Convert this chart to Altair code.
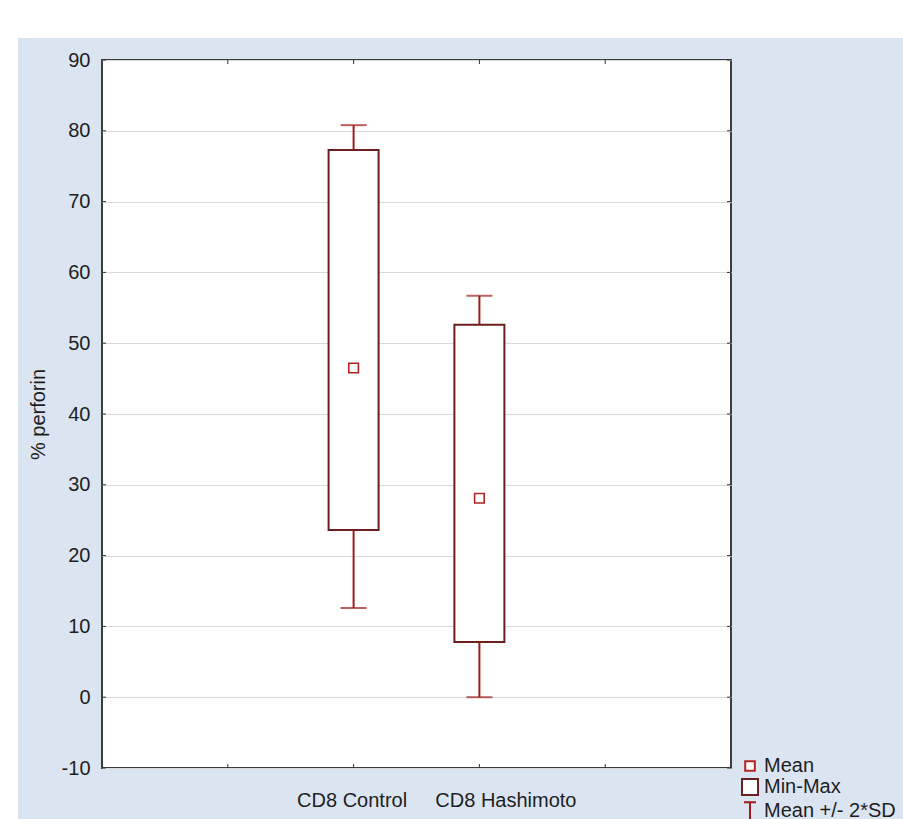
import altair as alt
import pandas as pd

# ---- data ----
categories = ["CD8 Control", "CD8 Hashimoto"]
mean_vals = [46.5, 28.1]
min_vals = [23.6, 7.8]
max_vals = [77.3, 52.6]
sd_low = [12.6, 0.0]
sd_high = [80.8, 56.7]
y_ticks = [-10, 0, 10, 20, 30, 40, 50, 60, 70, 80, 90]
legend_labels = ["Mean", "Min-Max", "Mean +/- 2*SD"]
x_slots = ["_pad1"] + categories + ["_pad2"]

# ---- layout / style ----
W, H = 629, 708
PAD = {"left": 102, "top": 60, "right": 172, "bottom": 51}
BLUE = "#dbe5f1"
FONT = "Liberation Sans"
FS = 20
TXT = "#1e1e1e"
BOX_C = "#6b1f1f"
WHISK_C = "#a01c1c"
MEAN_C = "#b22222"

df = pd.DataFrame({
    "cat": categories, "mean": mean_vals, "lo": min_vals, "hi": max_vals,
    "sdl": sd_low, "sdh": sd_high, "stat": ["Mean"] * len(categories),
})
ydf = pd.DataFrame({"v": y_ticks})
xdf = pd.DataFrame({"cat": x_slots})
one = pd.DataFrame({"a": [0]})

xs = alt.Scale(type="point", domain=x_slots, padding=1)
ys = alt.Scale(domain=[-10, 90], nice=False, zero=False)

x_axis = alt.Axis(
    title=None, ticks=False, domain=False, grid=False, labelAngle=0,
    labelExpr="indexof(datum.label, '_pad') >= 0 ? '' : datum.label",
    labelOffset={"condition": {"test": "datum.value == 'CD8 Hashimoto'", "value": 26}, "value": -2},
    labelFont=FONT, labelFontSize=FS, labelColor=TXT, labelPadding=22,
    labelOverlap=False,
)
y_axis = alt.Axis(
    title="% perforin", values=y_ticks, ticks=False, domain=False, grid=True,
    gridColor="#d9d9d9", gridWidth=1, labelExpr="'' + datum.value",
    labelFont=FONT, labelFontSize=FS, labelColor=TXT, labelPadding=12,
    titleFont=FONT, titleFontSize=FS, titleColor=TXT, titleFontWeight="normal",
    titlePadding=13,
)


def X():
    return alt.X("cat:N", scale=xs, axis=x_axis)


def Y(field):
    return alt.Y(f"{field}:Q", scale=ys, axis=y_axis)


# white margins outside the blue panel
white_top = alt.Chart(one).mark_rect(fill="white").encode(
    x=alt.value(-PAD["left"]), x2=alt.value(W + PAD["right"]),
    y=alt.value(-PAD["top"]), y2=alt.value(-22))
white_left = alt.Chart(one).mark_rect(fill="white").encode(
    x=alt.value(-PAD["left"]), x2=alt.value(-84),
    y=alt.value(-PAD["top"]), y2=alt.value(H + PAD["bottom"]))

# inward frame ticks
left_t = alt.Chart(ydf).mark_rule(color="#333", strokeWidth=1).encode(
    y=Y("v"), x=alt.value(0), x2=alt.value(4))
right_t = alt.Chart(ydf).mark_rule(color="#333", strokeWidth=1).encode(
    y=Y("v"), x=alt.value(W - 4), x2=alt.value(W))
top_t = alt.Chart(xdf).mark_rule(color="#333", strokeWidth=1).encode(
    x=X(), y=alt.value(0), y2=alt.value(4))
bot_t = alt.Chart(xdf).mark_rule(color="#333", strokeWidth=1).encode(
    x=X(), y=alt.value(H - 4), y2=alt.value(H))

base = alt.Chart(df)
whisker = base.mark_rule(color=WHISK_C, strokeWidth=2).encode(
    x=X(), y=Y("sdl"), y2="sdh:Q")
cap_lo = base.mark_tick(color=WHISK_C, orient="horizontal", size=26, thickness=2).encode(
    x=X(), y=Y("sdl"))
cap_hi = base.mark_tick(color=WHISK_C, orient="horizontal", size=26, thickness=2).encode(
    x=X(), y=Y("sdh"))
box = base.mark_bar(width=50, fill="white", stroke=BOX_C, strokeWidth=2).encode(
    x=X(), y=Y("lo"), y2="hi:Q")

leg = alt.Legend(
    title=None, orient="none", legendX=638, legendY=696,
    labelFont=FONT, labelFontSize=FS, labelColor=TXT, labelOffset=4,
    rowPadding=-1, padding=0, symbolStrokeWidth=2, symbolSize=256,
    symbolFillColor="white",
)
shape_scale = alt.Scale(
    domain=legend_labels,
    range=["M-0.6,-0.6H0.6V0.6H-0.6Z", "M-1,-1H1V1H-1Z", "M-0.75,-1.1H0.75M0,-1.1V1.6"],
)
stroke_scale = alt.Scale(domain=legend_labels, range=[MEAN_C, BOX_C, WHISK_C])
mean_pt = base.mark_point(size=256, filled=False, fill="white", strokeWidth=1.6, opacity=1).encode(
    x=X(), y=Y("mean"),
    shape=alt.Shape("stat:N", scale=shape_scale, legend=leg),
    stroke=alt.Stroke("stat:N", scale=stroke_scale, legend=leg),
)

chart = alt.layer(
    white_top, white_left, whisker, cap_lo, cap_hi, box, mean_pt,
    left_t, right_t, top_t, bot_t,
).properties(
    width=W, height=H, padding=PAD, autosize="none", background=BLUE,
).configure_view(
    fill="white", stroke="#3c3c3c", strokeWidth=2,
)

chart.save("out.html", embed_options={"renderer": "svg", "actions": False})
